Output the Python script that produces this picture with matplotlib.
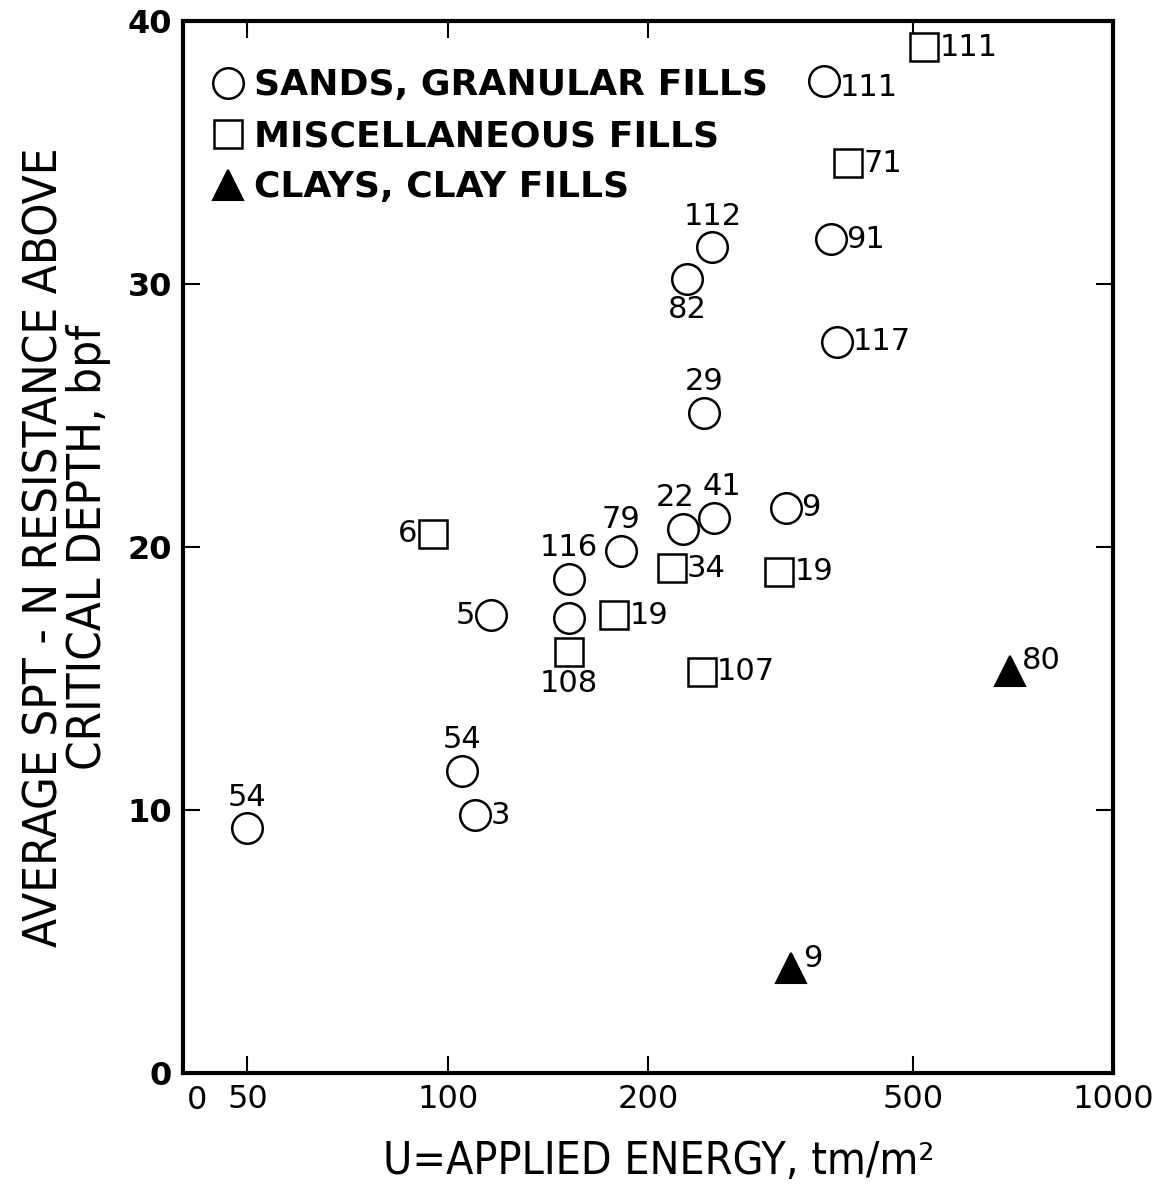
import matplotlib
matplotlib.use("Agg")
import matplotlib.pyplot as plt
from matplotlib.ticker import FixedLocator, FixedFormatter, NullLocator

plt.rcParams['font.family'] = ['DejaVu Sans']

# sands, granular fills
sand_u = [50, 105, 110, 116, 152, 152, 182, 226, 251, 322, 243, 229, 250, 385, 377, 368]
sand_n = [9.3, 11.5, 9.8, 17.4, 18.8, 17.3, 19.85, 20.7, 21.1, 21.5, 25.1, 30.2, 31.4, 27.8, 31.7, 37.7]
sand_id = ['54', '54', '3', '5', '116', '', '79', '22', '41', '9', '29', '82', '112', '117', '91', '111']

# miscellaneous fills
misc_u = [95, 152, 178, 217, 315, 241, 400, 520]
misc_n = [20.5, 16.0, 17.4, 19.2, 19.05, 15.25, 34.6, 39.0]
misc_id = ['6', '108', '19', '34', '19', '107', '71', '111']

# clays, clay fills
clay_u = [328, 699]
clay_n = [4.0, 15.3]
clay_id = ['9', '80']

# where each site number sits relative to its marker
sand_side = ['a', 'a', 'r', 'l', 'a', '', 'a', 'al', 'ar', 'r', 'a', 'b', 'a', 'r', 'r', 'rd']
misc_side = ['l', 'b', 'r', 'r', 'r', 'r', 'r', 'r']
clay_side = ['ur', 'ur']

x_ticks = [40, 50, 100, 200, 500, 1000]
x_tick_labels = ['', '50', '100', '200', '500', '1000']
y_ticks = [0, 10, 20, 30, 40]

OFFSETS = {
    'a': ((0, 12), 'center', 'bottom'),
    'al': ((-6, 12), 'center', 'bottom'),
    'ar': ((6, 12), 'center', 'bottom'),
    'b': ((0, -12), 'center', 'top'),
    'r': ((11, 0), 'left', 'center'),
    'rd': ((11, -4), 'left', 'center'),
    'l': ((-11, 0), 'right', 'center'),
    'ur': ((9, 7), 'left', 'center'),
}


def label_points(ax, xs, ys, ids, sides):
    for x, y, t, s in zip(xs, ys, ids, sides):
        if not t:
            continue
        off, ha, va = OFFSETS[s]
        ax.annotate(t, (x, y), xytext=off, textcoords='offset points',
                    ha=ha, va=va, fontsize=22)


fig = plt.figure(figsize=(11.58, 11.84), dpi=100)
ax = fig.add_axes([183 / 1158, 1 - 1073 / 1184, 930 / 1158, 1052 / 1184])

h_sand, = ax.plot(sand_u, sand_n, 'o', ms=22, mfc='white', mec='black', mew=1.8,
                  ls='none', label='SANDS, GRANULAR FILLS')
h_misc, = ax.plot(misc_u, misc_n, 's', ms=20, mfc='white', mec='black', mew=1.8,
                  ls='none', label='MISCELLANEOUS FILLS')
h_clay, = ax.plot(clay_u, clay_n, '^', ms=21, mfc='black', mec='black', mew=1.5,
                  ls='none', label='CLAYS, CLAY FILLS')

label_points(ax, sand_u, sand_n, sand_id, sand_side)
label_points(ax, misc_u, misc_n, misc_id, misc_side)
label_points(ax, clay_u, clay_n, clay_id, clay_side)

ax.set_xscale('log')
ax.set_xlim(40, 1000)
ax.set_ylim(0, 40)
ax.xaxis.set_major_locator(FixedLocator(x_ticks))
ax.xaxis.set_major_formatter(FixedFormatter(x_tick_labels))
ax.xaxis.set_minor_locator(NullLocator())
ax.set_yticks(y_ticks)

ax.tick_params(which='both', direction='in', top=True, right=True,
               length=12, width=1.5)
ax.tick_params(axis='x', labelsize=23, pad=8)
ax.tick_params(axis='y', labelsize=23, pad=8)
for lab in ax.get_yticklabels():
    lab.set_fontweight('bold')

# the "0" under the left corner sits a little right of the spine
ax.annotate('0', (0, 0), xycoords='axes fraction', xytext=(10, -8.5),
            textcoords='offset points', ha='center', va='top', fontsize=23)

for sp in ax.spines.values():
    sp.set_linewidth(3)

ax.set_xlabel('U=APPLIED ENERGY, tm/m²', fontsize=32, fontstretch='condensed')
ax.xaxis.set_label_coords(0.512, -0.064)
ax.set_ylabel('AVERAGE SPT - N RESISTANCE ABOVE\nCRITICAL DEPTH, bpf', fontsize=34,
              fontstretch='condensed', labelpad=12, linespacing=0.95)

ax.legend(handles=[h_sand, h_misc, h_clay], loc='upper left', frameon=False,
          bbox_to_anchor=(0.004, 0.979), numpoints=1, handlelength=0.9,
          handletextpad=0.25, labelspacing=0.47, borderaxespad=0.3,
          prop={'size': 26, 'weight': 'bold'})

fig.savefig('out.png', dpi=100)
